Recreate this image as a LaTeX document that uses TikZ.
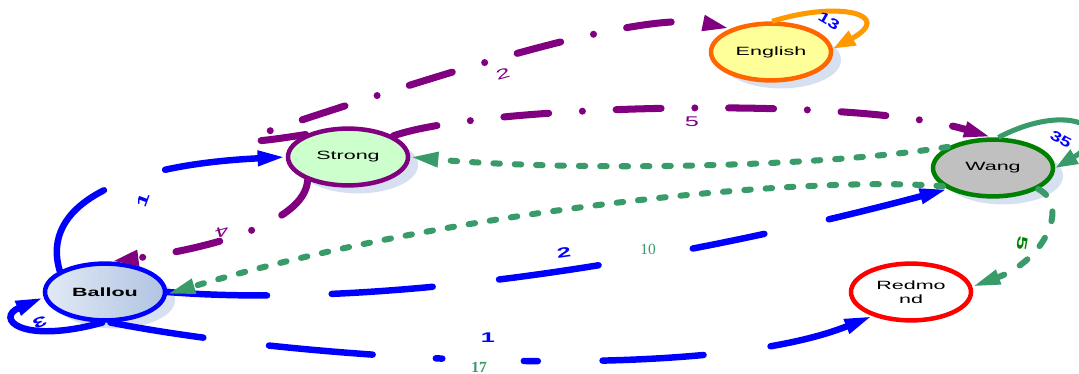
\documentclass[tikz,border=0pt]{standalone}
\usepackage{fontspec}
\setmainfont{Liberation Sans}
\newfontfamily\numfont{Liberation Serif}
\usetikzlibrary{shapes.geometric,arrows.meta,shadows}

\definecolor{edgeblue}{RGB}{0,0,255}
\definecolor{edgepurple}{RGB}{128,0,128}
\definecolor{edgegreen}{RGB}{58,155,106}
\definecolor{darkgreen}{RGB}{0,128,0}
\definecolor{looporange}{RGB}{255,153,0}
\definecolor{rimorange}{RGB}{255,102,0}
\definecolor{shade}{RGB}{214,224,240}
\definecolor{ballouA}{RGB}{226,233,245}
\definecolor{ballouB}{RGB}{176,196,226}
\definecolor{strongfill}{RGB}{204,255,204}
\definecolor{englishfill}{RGB}{255,255,153}
\definecolor{wangfill}{RGB}{192,192,192}

\begin{document}
\begin{tikzpicture}[x=0.025cm,y=-0.025cm]
    \newcommand{\wtxt}[1]{\scalebox{1.8}[1]{#1}}

    \tikzstyle{place}=[
      ellipse,
      line width=3.2pt,
      minimum width=3cm,
      minimum height=1.42cm,
      inner sep=0pt,
      align=center,
      font=\fontsize{8.5}{10}\selectfont,
    ]
    \tikzstyle{city}=[
      place,
      drop shadow={shadow xshift=0.25cm,shadow yshift=-0.2cm,fill=shade,opacity=1},
    ]
    \tikzstyle{tip}=[-{Triangle[length=20pt,width=10pt]}]
    \tikzstyle{bedge}=[tip,line width=4.6pt,draw=edgeblue,line cap=round]
    \tikzstyle{pedge}=[tip,line width=5pt,draw=edgepurple,line cap=round,
      dash pattern=on 32pt off 24pt on 0pt off 24pt]
    \tikzstyle{gdots}=[tip,line width=4.3pt,draw=edgegreen,line cap=round,
      dash pattern=on 4.6pt off 10.6pt]
    \tikzstyle{gdash}=[tip,line width=4.3pt,draw=edgegreen,line cap=round,
      dash pattern=on 7pt off 12.8pt]
    \tikzstyle{loopedge}=[-{Triangle[length=16pt,width=11pt]},line width=3.6pt]
    \tikzstyle{blab}=[inner sep=0pt,text=edgeblue,font=\bfseries\fontsize{10}{10}\selectfont]
    \tikzstyle{plab}=[inner sep=0pt,text=edgepurple,font=\fontsize{10}{10}\selectfont]
    \tikzstyle{nlab}=[inner sep=0pt,text=edgegreen,font=\numfont\fontsize{11}{11}\selectfont]

    \useasboundingbox (0,0) rectangle (1079,374);

    % cities
    \node[city,draw=edgeblue,left color=ballouA,right color=ballouB] (ballou) at (105,292) {\wtxt{\bfseries Ballou}};
    \node[city,draw=edgepurple,fill=strongfill] (strong) at (348,157) {\wtxt{Strong}};
    \node[city,draw=rimorange,fill=englishfill] (english) at (771,52) {\wtxt{English}};
    \node[city,draw=darkgreen,fill=wangfill] (wang) at (993,168) {\wtxt{Wang}};
    \node[place,draw=red,fill=white] (redmond) at (911,292) {\wtxt{Redmo}\\\wtxt{nd}};

    % blue edges
    \draw[bedge,dash pattern=on 72pt off 46pt] (ballou.155) .. controls (40,205) and (120,165) .. (strong.west);
    \draw[bedge] (ballou.265) .. controls (20,345) and (-5,318) .. (ballou.185);
    \draw[bedge,dash pattern=on 71pt off 46pt on 72pt off 47.5pt on 71.5pt off 68pt on 52pt off 47pt on 300pt]
      (ballou.0) .. controls (400,310) and (700,255) .. (wang.205);
    \draw[bedge,dash pattern=on 67pt off 47pt on 74pt off 45pt on 4.6pt off 58pt on 10pt off 46pt on 72pt off 48pt on 300pt]
      (ballou.280) .. controls (300,360) and (700,385) .. (redmond.212);

    % purple edges
    \draw[pedge] (strong.152) .. controls (220,148) and (240,140) .. (320,114)
      .. controls (440,75) and (640,10) .. (english.150);
    \draw[pedge] (strong.25) .. controls (480,105) and (850,95) .. (wang.92);
    \draw[pedge] (strong.210) .. controls (305,225) and (200,250) .. (ballou.80);

    % green edges
    \draw[gdots] (wang.155) .. controls (800,170) and (550,170) .. (strong.0);
    \draw[gdots] (wang.200) .. controls (800,175) and (450,210) .. (ballou.358);
    \draw[gdash] (wang.335) .. controls (1070,205) and (1045,260) .. (redmond.5);

    % self loops
    \draw[loopedge,draw=edgegreen] (wang.80) .. controls (1070,100) and (1120,130) .. (wang.0);
    \draw[loopedge,draw=looporange] (english.88) .. controls (840,0) and (895,15) .. (english.3);

    % weights
    \node[blab,rotate=70] (w1) at (143,200) {\wtxt{1}};
    \node[blab,rotate=200] (w3) at (40,322) {\wtxt{3}};
    \node[blab,rotate=8] (w2) at (564,253) {\wtxt{2}};
    \node[blab] (w1b) at (488,338) {\wtxt{1}};
    \node[plab,rotate=15] (p2) at (503,74) {\wtxt{2}};
    \node[plab] (p5) at (692,122) {\wtxt{5}};
    \node[plab,rotate=195] (p4) at (222,232) {\wtxt{4}};
    \node[blab,rotate=-30] (w13) at (829,21) {\scalebox{1.4}[1]{13}};
    \node[blab,rotate=-28] (w35) at (1061,139) {\scalebox{1.4}[1]{35}};
    \node[blab,text=darkgreen,rotate=-100] (g5) at (1022,243) {\wtxt{5}};
    \node[nlab] (n10) at (648,249) {10};
    \node[nlab,font=\numfont\bfseries\fontsize{11}{11}\selectfont] (n17) at (479,367) {17};
\end{tikzpicture}
\end{document}
